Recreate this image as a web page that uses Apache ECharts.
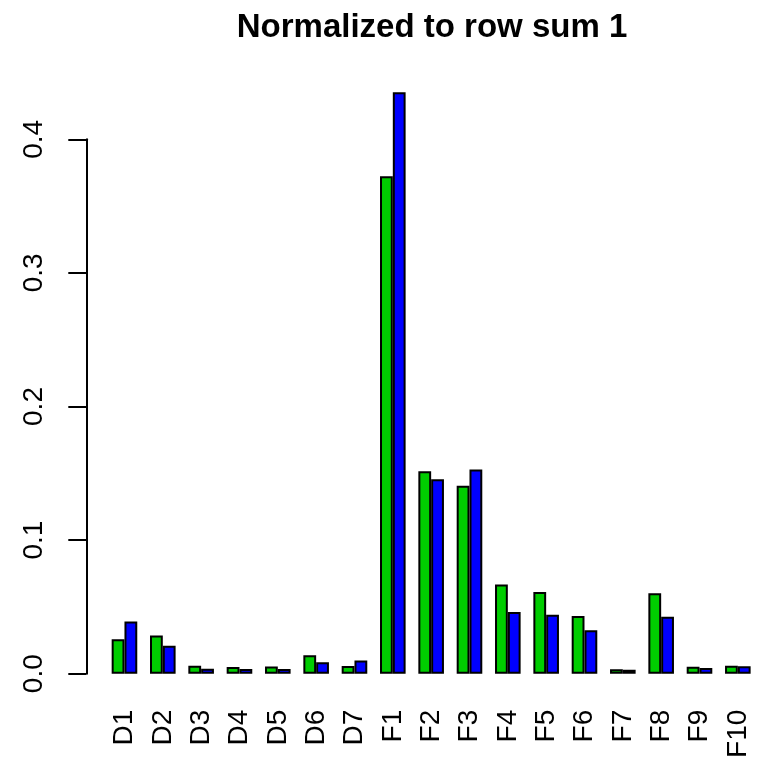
<!DOCTYPE html>
<html>
<head>
<meta charset="utf-8">
<script src="https://cdn.jsdelivr.net/npm/echarts@6/dist/echarts.min.js"></script>
<style>
  html, body { margin: 0; padding: 0; background: #ffffff; }
  #chart { width: 757px; height: 764px; }
</style>
</head>
<body>
<div id="chart"></div>
<script>
// Category names along the x axis
var categories = ['D1', 'D2', 'D3', 'D4', 'D5', 'D6', 'D7',
  'F1', 'F2', 'F3', 'F4', 'F5', 'F6', 'F7', 'F8', 'F9', 'F10'];

// First row (green bars), normalized to sum 1
var rowA = [0.0258, 0.0285, 0.0060, 0.0050, 0.0053, 0.0138, 0.0058,
  0.3723, 0.1516, 0.1406, 0.0667, 0.0612, 0.0432, 0.0033, 0.0602, 0.0052, 0.0060];

// Second row (blue bars), normalized to sum 1
var rowB = [0.0390, 0.0210, 0.0037, 0.0035, 0.0035, 0.0085, 0.0098,
  0.4352, 0.1456, 0.1528, 0.0462, 0.0442, 0.0325, 0.0030, 0.0427, 0.0043, 0.0055];

// Y axis tick values
var yTicks = [0.0, 0.1, 0.2, 0.3, 0.4];

var FONT = '"Liberation Sans", Arial, Helvetica, sans-serif';

var chart = echarts.init(document.getElementById('chart'), null, { renderer: 'canvas' });

chart.setOption({
  backgroundColor: '#ffffff',
  animation: false,
  title: {
    text: 'Normalized to row sum 1',
    left: 427,
    textAlign: 'center',
    top: 6,
    textStyle: { fontFamily: FONT, fontSize: 33, fontWeight: 'bold', color: '#000000' }
  },
  grid: { left: 105.3, width: 652.8, top: 139.3, bottom: 90.3, containLabel: false },
  xAxis: {
    type: 'category',
    data: categories,
    boundaryGap: true,
    axisLine: { show: false },
    axisTick: { show: false },
    axisLabel: {
      interval: 0,
      rotate: 90,
      margin: 36,
      fontFamily: FONT,
      fontSize: 28,
      color: '#000000'
    }
  },
  yAxis: {
    type: 'value',
    min: yTicks[0],
    max: yTicks[yTicks.length - 1],
    interval: 0.1,
    offset: 19,
    splitLine: { show: false },
    axisLine: { show: true, lineStyle: { color: '#000000', width: 2 } },
    axisTick: { show: true, length: 18, lineStyle: { color: '#000000', width: 2 } },
    axisLabel: {
      rotate: 90,
      margin: 38,
      fontFamily: FONT,
      fontSize: 28,
      color: '#000000',
      formatter: function (v) { return v.toFixed(1); }
    }
  },
  series: [
    {
      type: 'bar',
      data: rowA,
      clip: false,
      barWidth: 12.8,
      barGap: '0%',
      itemStyle: { color: '#00CD00', borderColor: '#000000', borderWidth: 2 }
    },
    {
      type: 'bar',
      data: rowB,
      clip: false,
      barWidth: 12.8,
      barGap: '0%',
      itemStyle: { color: '#0000FF', borderColor: '#000000', borderWidth: 2 }
    }
  ]
});
</script>
</body>
</html>
